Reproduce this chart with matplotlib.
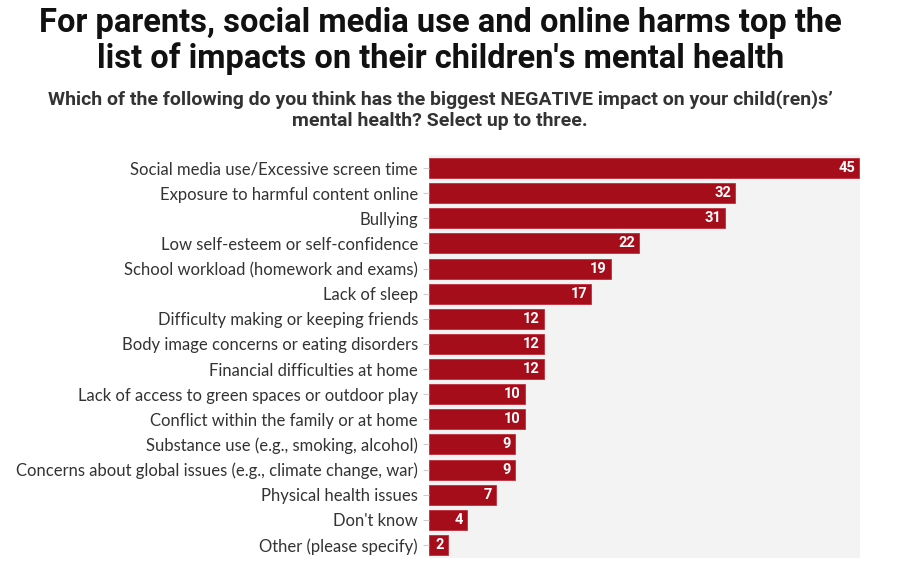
import numpy as np
from matplotlib import pyplot as plt

categories = [
    "Social media use/Excessive screen time",
    "Exposure to harmful content online",
    "Bullying",
    "Low self-esteem or self-confidence",
    "School workload (homework and exams)",
    "Lack of sleep",
    "Difficulty making or keeping friends",
    "Body image concerns or eating disorders",
    "Financial difficulties at home",
    "Lack of access to green spaces or outdoor play",
    "Conflict within the family or at home",
    "Substance use (e.g., smoking, alcohol)",
    "Concerns about global issues (e.g., climate change, war)",
    "Physical health issues",
    "Don't know",
    "Other (please specify)",
]
values = [45, 32, 31, 22, 19, 17, 12, 12, 12, 10, 10, 9, 9, 7, 4, 2]

title = "For parents, social media use and online harms top the\nlist of impacts on their children's mental health"
subtitle = ("Which of the following do you think has the biggest NEGATIVE impact on your child(ren)s\u2019\n"
            "mental health? Select up to three.")

bar_color = "#a50d1b"

fig = plt.figure(figsize=(9.04, 5.66), dpi=100)
ax = fig.add_axes([429 / 904, 1 - 558 / 566, (860 - 429) / 904, (558 - 155) / 566])
ax.set_facecolor("#f3f3f3")

y = np.arange(len(categories))
ax.barh(y, values, height=0.8, color=bar_color, edgecolor="#c0303c", linewidth=0.6)
for yi, v in zip(y, values):
    ax.text(v - 0.4, yi, str(v), ha="right", va="center", color="white",
            fontsize=10.5, fontweight="bold", family="Roboto")

ax.set_xlim(0, 45.1)
ax.set_ylim(len(categories) - 0.48, -0.52)
ax.set_yticks(y)
ax.set_yticklabels(categories, fontsize=12, color="#333333", family="Lato")
ax.set_xticks([])
ax.tick_params(axis="y", length=4, color="#cccccc", pad=4)
for s in ax.spines.values():
    s.set_visible(False)

fig.text(0.487, 0.988, title, ha="center", va="top", fontsize=23.5, fontweight="bold",
         family="Roboto", color="#111111", linespacing=1.12)
fig.text(0.487, 0.84, subtitle, ha="center", va="top", fontsize=14, fontweight="bold",
         family="Roboto", color="#333333", linespacing=1.2)

fig.savefig("out.png", dpi=100)
